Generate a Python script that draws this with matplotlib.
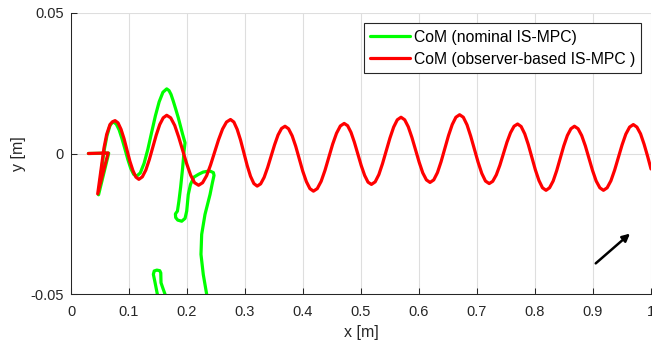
import matplotlib
matplotlib.use("Agg")
import matplotlib.pyplot as plt

# CoM trajectory, nominal IS-MPC (green) - leaves the plot at the bottom (robot falls)
green_x = [0.030, 0.065, 0.0475,
           0.0535, 0.0575, 0.0620, 0.0670, 0.0700, 0.073,
           0.078, 0.083, 0.088, 0.093, 0.098, 0.103, 0.108, 0.113,
           0.1195, 0.126, 0.1325, 0.139, 0.1455, 0.152, 0.1585, 0.165,
           0.169, 0.1725, 0.1764, 0.181, 0.185, 0.1925, 0.1966,
           0.1950, 0.1925, 0.189, 0.186, 0.1835, 0.1800, 0.1805, 0.1840, 0.1909, 0.1966,
           0.1995, 0.2022, 0.2060, 0.2120, 0.2200, 0.2280, 0.2390, 0.2455, 0.2466,
           0.2437, 0.2397, 0.2310, 0.2253, 0.2241, 0.2281, 0.2340, 0.2365,
           0.1500, 0.1488, 0.1445, 0.1420, 0.1435, 0.1480, 0.1530, 0.1548, 0.1552,
           0.1585, 0.1620, 0.1640]
green_y = [0.0000, 0.0001, -0.0147,
           -0.0045, 0.0015, 0.0063, 0.0098, 0.0108, 0.0112,
           0.0105, 0.0084, 0.0052, 0.0016, -0.0021, -0.0053, -0.0074, -0.0081,
           -0.0069, -0.0035, 0.0015, 0.0075, 0.0134, 0.0184, 0.0218, 0.0230,
           0.0224, 0.0210, 0.0186, 0.0155, 0.0127, 0.0068, 0.0038,
           0.0010, -0.0051, -0.0120, -0.0170, -0.0205, -0.0215, -0.0228, -0.0237, -0.0241, -0.0231,
           -0.0205, -0.0146, -0.0110, -0.0084, -0.0074, -0.0066, -0.0062, -0.0068, -0.0078,
           -0.0105, -0.0146, -0.0217, -0.0288, -0.0359, -0.0431, -0.0502, -0.0560,
           -0.0560, -0.0500, -0.0455, -0.0430, -0.0418, -0.0415, -0.0417, -0.0425, -0.0460,
           -0.0480, -0.0500, -0.0560]

# CoM trajectory, observer-based IS-MPC (red)
red_x = [0.030, 0.064, 0.046,
         0.0529, 0.0569, 0.0615, 0.0672, 0.0715, 0.076,
         0.0811, 0.0863, 0.0914, 0.0965, 0.1016, 0.1068, 0.1119, 0.117,
         0.123, 0.129, 0.135, 0.141, 0.147, 0.153, 0.159, 0.165,
         0.1719, 0.1788, 0.1856, 0.1925, 0.1994, 0.2063, 0.2131, 0.220,
         0.2269, 0.2338, 0.2406, 0.2475, 0.2544, 0.2613, 0.2681, 0.275,
         0.2808, 0.2865, 0.2923, 0.298, 0.3038, 0.3095, 0.3153, 0.321,
         0.327, 0.333, 0.339, 0.345, 0.351, 0.357, 0.363, 0.369,
         0.3751, 0.3813, 0.3874, 0.3935, 0.3996, 0.4058, 0.4119, 0.418,
         0.4246, 0.4313, 0.4379, 0.4445, 0.4511, 0.4578, 0.4644, 0.471,
         0.4769, 0.4828, 0.4886, 0.4945, 0.5004, 0.5063, 0.5121, 0.518,
         0.5244, 0.5308, 0.5371, 0.5435, 0.5499, 0.5563, 0.5626, 0.569,
         0.5753, 0.5815, 0.5878, 0.594, 0.6003, 0.6065, 0.6128, 0.619,
         0.6254, 0.6318, 0.6381, 0.6445, 0.6509, 0.6573, 0.6636, 0.670,
         0.6764, 0.6828, 0.6891, 0.6955, 0.7019, 0.7083, 0.7146, 0.721,
         0.7271, 0.7333, 0.7394, 0.7455, 0.7516, 0.7578, 0.7639, 0.770,
         0.7761, 0.7823, 0.7884, 0.7945, 0.8006, 0.8068, 0.8129, 0.819,
         0.8251, 0.8313, 0.8374, 0.8435, 0.8496, 0.8558, 0.8619, 0.868,
         0.8743, 0.8805, 0.8868, 0.893, 0.8993, 0.9055, 0.9118, 0.918,
         0.9244, 0.9309, 0.9373, 0.9438, 0.9502, 0.9566, 0.9631, 0.9695,
         0.9757, 0.982, 0.9881, 0.9943, 1.0]
red_y = [0.0000, 0.0002, -0.0144,
         -0.0039, 0.0020, 0.0068, 0.0103, 0.0113, 0.0117,
         0.0109, 0.0086, 0.0053, 0.0013, -0.0028, -0.0061, -0.0084, -0.0092,
         -0.0083, -0.0059, -0.0022, 0.0022, 0.0066, 0.0103, 0.0127, 0.0136,
         0.0127, 0.0100, 0.0059, 0.0012, -0.0036, -0.0077, -0.0104, -0.0113,
         -0.0104, -0.0079, -0.0041, 0.0004, 0.0049, 0.0087, 0.0112, 0.0121,
         0.0112, 0.0086, 0.0048, 0.0003, -0.0043, -0.0081, -0.0107, -0.0116,
         -0.0108, -0.0085, -0.0050, -0.0010, 0.0031, 0.0066, 0.0089, 0.0097,
         0.0088, 0.0063, 0.0026, -0.0019, -0.0063, -0.0100, -0.0125, -0.0134,
         -0.0125, -0.0099, -0.0060, -0.0014, 0.0033, 0.0072, 0.0098, 0.0107,
         0.0099, 0.0075, 0.0040, -0.0002, -0.0043, -0.0078, -0.0102, -0.0110,
         -0.0101, -0.0075, -0.0036, 0.0010, 0.0055, 0.0094, 0.0120, 0.0129,
         0.0120, 0.0095, 0.0057, 0.0013, -0.0031, -0.0069, -0.0094, -0.0103,
         -0.0094, -0.0068, -0.0029, 0.0018, 0.0064, 0.0103, 0.0129, 0.0138,
         0.0129, 0.0102, 0.0062, 0.0016, -0.0031, -0.0071, -0.0098, -0.0107,
         -0.0099, -0.0076, -0.0042, -0.0001, 0.0040, 0.0074, 0.0097, 0.0105,
         0.0096, 0.0070, 0.0032, -0.0013, -0.0058, -0.0096, -0.0122, -0.0131,
         -0.0122, -0.0098, -0.0061, -0.0017, 0.0027, 0.0064, 0.0088, 0.0097,
         0.0088, 0.0064, 0.0027, -0.0017, -0.0061, -0.0098, -0.0122, -0.0131,
         -0.0122, -0.0097, -0.0059, -0.0014, 0.0031, 0.0069, 0.0094, 0.0103,
         0.0094, 0.0070, 0.0033, -0.0011, -0.0055]

labels = ["CoM (nominal IS-MPC)", "CoM (observer-based IS-MPC )"]

x_ticks = [0, 0.1, 0.2, 0.3, 0.4, 0.5, 0.6, 0.7, 0.8, 0.9, 1.0]
x_tick_labels = ["0", "0.1", "0.2", "0.3", "0.4", "0.5", "0.6", "0.7", "0.8", "0.9", "1"]
y_ticks = [-0.05, 0, 0.05]
y_tick_labels = ["-0.05", "0", "0.05"]

# walking direction arrow (tail, head)
arrow_tail = (0.9047, -0.0391)
arrow_head = (0.9638, -0.0285)

plt.rcParams["font.family"] = ["Liberation Sans", "DejaVu Sans"]
axis_gray = (0.15, 0.15, 0.15)

fig = plt.figure(figsize=(6.52, 3.43), dpi=100)
ax = fig.add_axes([71 / 652, 1 - 294 / 343, 580 / 652, 281 / 343])

ax.plot(green_x, green_y, color=(0, 1, 0), lw=2.3, label=labels[0],
        solid_joinstyle="round", solid_capstyle="round")
ax.plot(red_x, red_y, color=(1, 0, 0), lw=2.3, label=labels[1],
        solid_joinstyle="round", solid_capstyle="round")

ax.annotate("", xy=arrow_head, xytext=arrow_tail,
            arrowprops=dict(arrowstyle="-|>", color="black", lw=1.8,
                            mutation_scale=11, shrinkA=0, shrinkB=0))

ax.set_xlim(0, 1)
ax.set_ylim(-0.05, 0.05)
ax.set_xticks(x_ticks)
ax.set_xticklabels(x_tick_labels)
ax.set_yticks(y_ticks)
ax.set_yticklabels(y_tick_labels)
ax.tick_params(direction="in", length=4, width=0.75, colors=axis_gray,
               labelsize=10.5)
ax.tick_params(axis="x", pad=8)
ax.tick_params(axis="y", pad=5)
ax.grid(True, color=(0.87, 0.87, 0.87), lw=0.8)
ax.set_axisbelow(True)

for side in ["top", "right"]:
    ax.spines[side].set_visible(False)
for side in ["left", "bottom"]:
    ax.spines[side].set_color(axis_gray)
    ax.spines[side].set_linewidth(0.75)

ax.set_xlabel("x [m]", fontsize=11.5, color=axis_gray)
ax.xaxis.set_label_coords(0.5, -0.112)
ax.set_ylabel("y [m]", fontsize=11.5, color=axis_gray)
ax.yaxis.set_label_coords(-0.078, 0.5)

leg = ax.legend(loc="upper right", bbox_to_anchor=(0.983, 0.963), borderaxespad=0,
                fontsize=11.3, handlelength=2.5, handletextpad=0.25, labelspacing=0.45,
                borderpad=0.4, fancybox=False, framealpha=1)
leg.get_frame().set_edgecolor(axis_gray)
leg.get_frame().set_linewidth(0.8)

plt.savefig("out.png", dpi=100)
plt.close()
